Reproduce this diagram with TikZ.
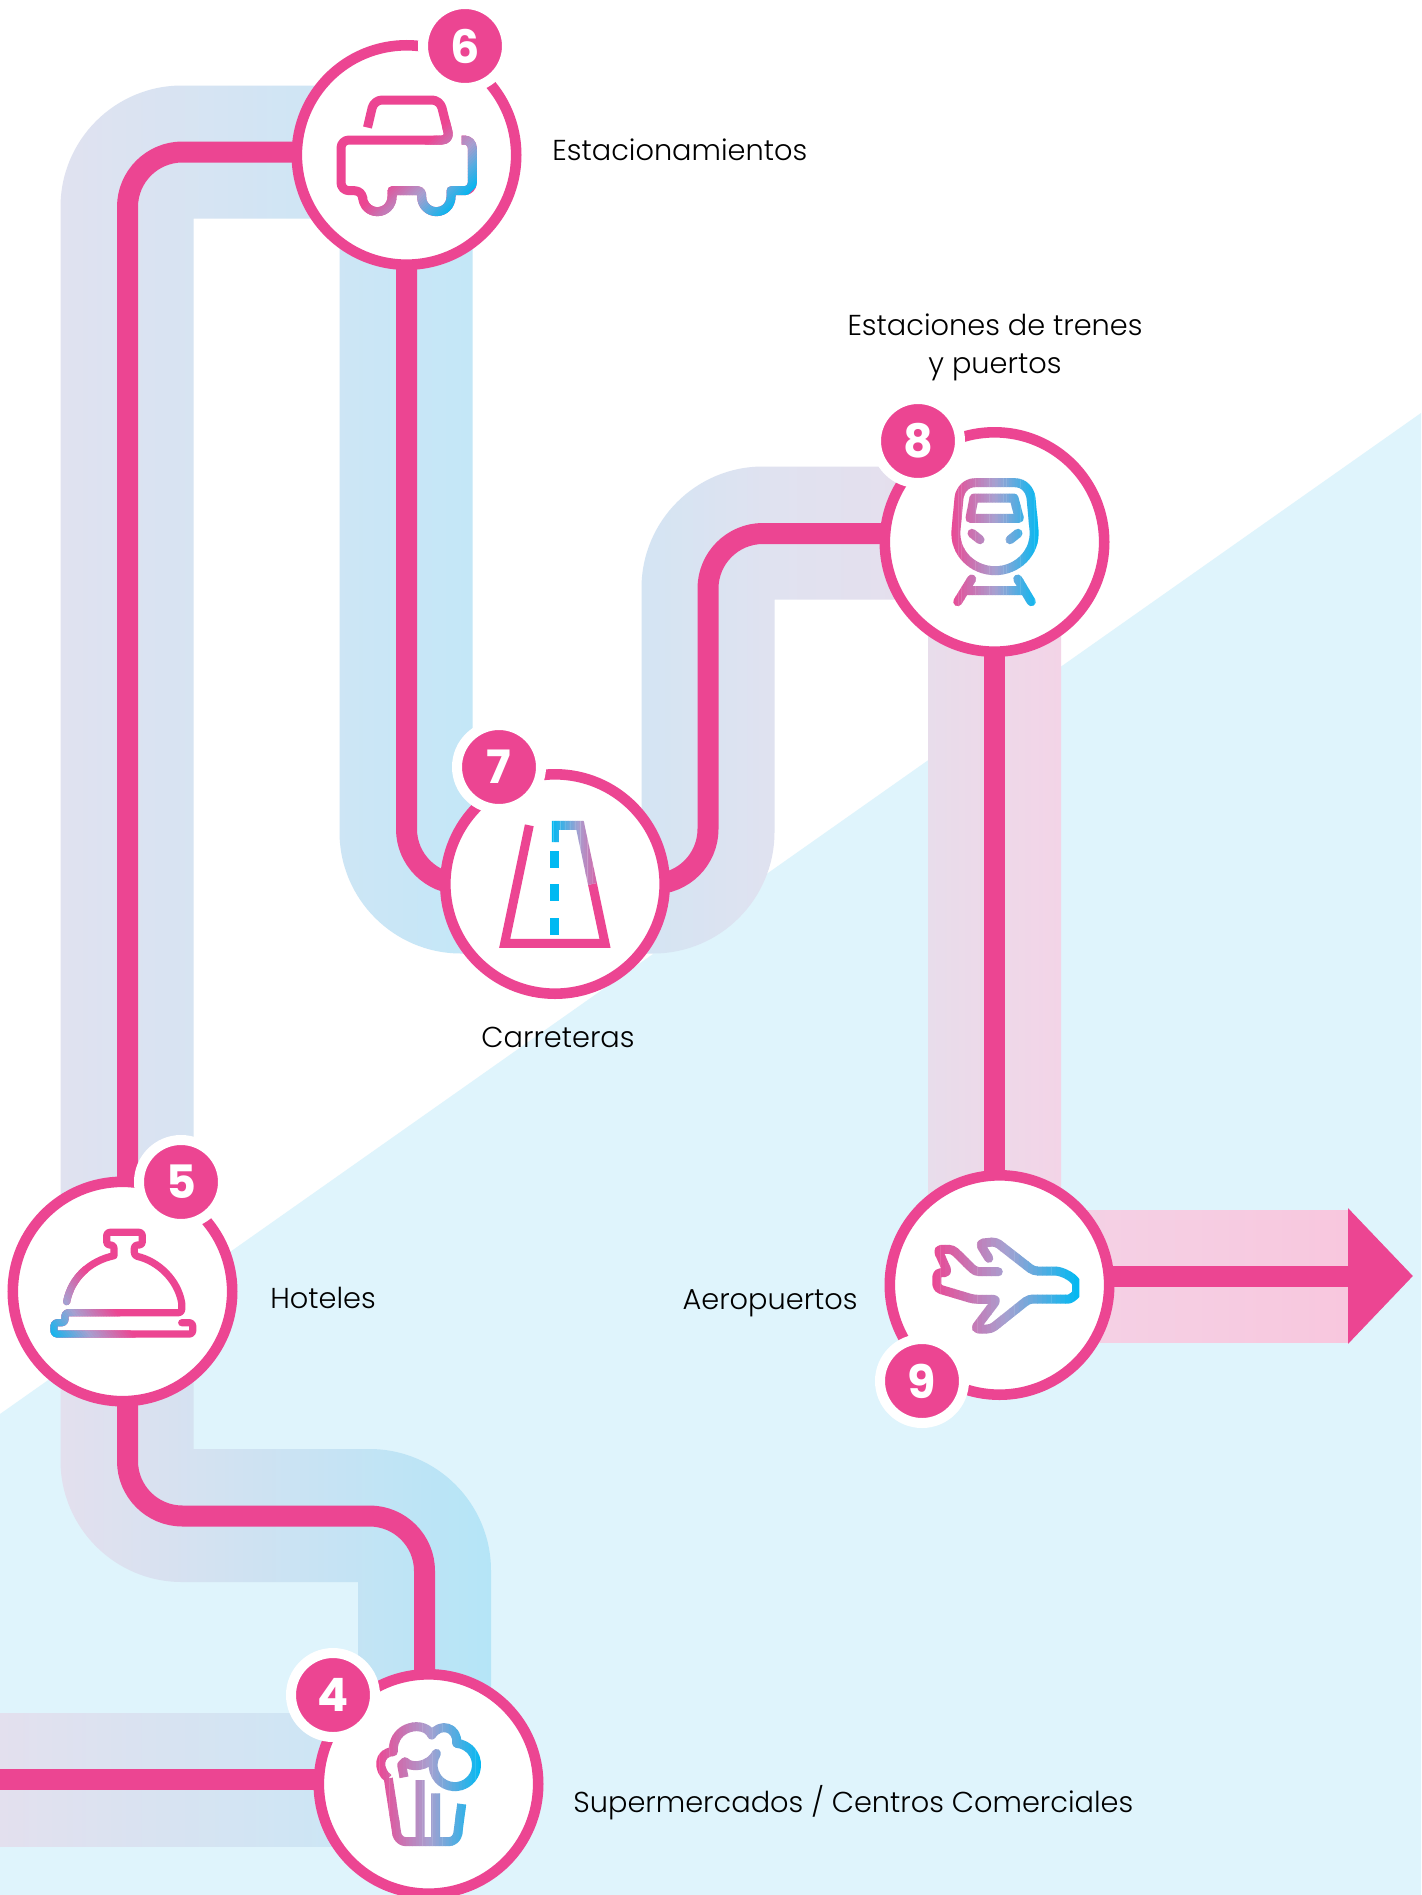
\documentclass[tikz,border=0pt]{standalone}
\usepackage{fontspec}
\setmainfont{Poppins}
\newfontfamily\captionfont{Poppins Light}
\usetikzlibrary{arrows.meta,backgrounds}

\definecolor{linkpink}{HTML}{EC4592}
\definecolor{iconmid}{HTML}{A8A0D0}
\definecolor{iconblue}{HTML}{00B9F2}
\definecolor{skyfield}{HTML}{DFF4FC}
\definecolor{bandlilac}{HTML}{E3E0EE}
\definecolor{bandpale}{HTML}{CCE6F5}
\definecolor{bandsky}{HTML}{B5E5F7}
\definecolor{bandice}{HTML}{E0E2F0}
\definecolor{bandaqua}{HTML}{BEE8F9}
\definecolor{bandmauve}{HTML}{E8DDEB}
\definecolor{bandrose}{HTML}{F3D4E7}
\definecolor{bandpeony}{HTML}{F8C7DE}

\newcommand{\iconslices}[5]{%
  \foreach \i in {0,...,31}{%
    \pgfmathsetmacro{\mixa}{min(100,6.25*(\i+.5))}%
    \pgfmathsetmacro{\mixb}{max(0,6.25*(\i+.5)-100)}%
    \ifnum\i<16 \colorlet{slicecolor}{iconmid!\mixa!linkpink}\else \colorlet{slicecolor}{iconblue!\mixb!iconmid}\fi
    \begin{scope}
      \path[clip,rotate around={-#4:(#1,#2)}] (#1-#3+#3*\i/16,#2-130) rectangle (#1-#3+#3*\i/16+#3*1.1/16,#2+130);
      \draw[iconline,draw=slicecolor] #5;
    \end{scope}
  }%
}
\newcommand{\carpath}{(367.5,127.5) [rounded corners=4pt] -- (374,100) -- (440,100) -- (450,140) -- (341,140) -- (341,190.7) -- (362.7,190.7) [sharp corners] -- (362.7,197) arc[start angle=180,end angle=0,radius=14.65] -- (392,190.7) [rounded corners=2pt] -- (421.7,190.7) [sharp corners] -- (421.7,197) arc[start angle=180,end angle=0,radius=14.65] -- (451,190.7) [rounded corners=4pt] -- (472.3,190.7) -- (472.3,140) -- (461.7,140)}
\newcommand{\bellpath}{(66.7,1301.7) .. controls (71,1278.3) and (90,1260.7) .. (114,1255.7) [rounded corners=1.5pt] -- (114,1245) -- (106.7,1245) -- (106.7,1232.3) -- (142.3,1232.3) -- (142.3,1245) -- (134.3,1245) -- (134.3,1255.7) [sharp corners] .. controls (158,1261) and (178,1280) .. (181.7,1303) [rounded corners=1.5pt] -- (181.7,1312.7) -- (65,1312.7) -- (65,1322.7) -- (54,1322.7) -- (54,1334) -- (192.7,1334) -- (192.7,1322.7) -- (181.7,1322.7)}

\begin{document}
\begin{tikzpicture}[x=0.5pt,y=-0.5pt]
  \tikzstyle{stopnode}=[circle,draw=linkpink,fill=white,line width=5.3pt,minimum size=109.7pt,inner sep=0pt]
  \tikzstyle{badge}=[circle,draw=white,fill=linkpink,line width=5pt,minimum size=42pt,inner sep=0pt,text=white,font=\fontsize{23}{23}\selectfont\bfseries]
  \tikzstyle{caption}=[inner sep=0pt,text=black,font=\captionfont\fontsize{14.4}{19}\selectfont,align=center]
  \tikzstyle{mainline}=[draw=linkpink,line width=10.5pt]
  \tikzstyle{iconline}=[line width=4.5pt,line join=round]
  \tikzstyle{band}=[draw=none]

  \useasboundingbox (0,0) rectangle (1421,1895);

  \node[stopnode] (n6) at (406.5,155)  {};
  \node[stopnode] (n7) at (555,884)    {};
  \node[stopnode] (n8) at (994.5,542)  {};
  \node[stopnode] (n5) at (122.5,1291.5) {};
  \node[stopnode] (n9) at (999.5,1285) {};
  \node[stopnode] (n4) at (428.5,1784) {};

  \node[badge] (b6) at (465,46)    {6};
  \node[badge] (b7) at (499,767)   {7};
  \node[badge] (b8) at (918,441)   {8};
  \node[badge] (b5) at (181,1182)  {5};
  \node[badge] (b9) at (922,1381)  {9};
  \node[badge] (b4) at (333,1695)  {4};

  \node[caption,anchor=west] (t6) at (552,150)   {Estacionamientos};
  \node[caption] (t8) at (995,347)               {Estaciones de trenes\\y puertos};
  \node[caption] (t7) at (558,1037)              {Carreteras};
  \node[caption,anchor=west] (t5) at (270,1298)  {Hoteles};
  \node[caption,anchor=east] (t9) at (858,1303)  {Aeropuertos};
  \node[caption,anchor=west] (t4) at (573,1803)  {Supermercados / Centros Comerciales};

  \coordinate (in4) at (0,1779);
  \coordinate (turn45) at (276,1516);
  \coordinate (turn78) at (708,700);
  \coordinate (tip) at (1413,1276);

  \begin{pgfonlayer}{background}
    \fill[white] (0,0) rectangle (1421,1895);
    \fill[skyfield] (0,1414) -- (1421,413) -- (1421,1895) -- (0,1895) -- cycle;

    \path[band,left color=bandlilac,right color=bandpale] (0,1713) rectangle (340,1846);
    \path[band,left color=bandlilac,right color=bandsky]
      (60.5,1291) -- (193.5,1291) -- (193.5,1449) -- (369.5,1449) arc[start angle=270,end angle=360,radius=121.5]
      -- (491,1784) -- (358,1784) -- (358,1582) -- (182,1582) arc[start angle=90,end angle=180,radius=121.5] -- cycle;
    \path[band,left color=bandice,right color=bandaqua]
      (60.5,1291) -- (60.5,207) arc[start angle=180,end angle=270,radius=121.5] -- (472.5,85.5) -- (472.5,820.5)
      -- (555,820.5) -- (555,953.5) -- (461,953.5) arc[start angle=90,end angle=180,radius=121.5]
      -- (339.5,218.5) -- (193.5,218.5) -- (193.5,1291) -- cycle;
    \path[band,left color=bandpale,right color=bandmauve,middle color=bandice]
      (555,953.5) -- (653,953.5) arc[start angle=90,end angle=0,radius=121.5] -- (774.5,599.5) -- (994,599.5)
      -- (994,466.5) -- (763,466.5) arc[start angle=270,end angle=180,radius=121.5] -- (641.5,820.5) -- (555,820.5) -- cycle;
    \path[band,left color=bandmauve,right color=bandrose] (928,533) rectangle (1061,1285);
    \path[band,left color=bandrose,right color=bandpeony] (1000,1210) rectangle (1349,1342);

    \draw[mainline] (in4) -- (in4 -| n4);
    \draw[mainline,rounded corners=27.5pt] ([xshift=-2pt]n4.center) |- (turn45) -| ([xshift=2.5pt]n5.center);
    \draw[mainline,rounded corners=27.5pt] ([xshift=2.5pt]n5.center) |- ([yshift=1.5pt]n6.center);
    \draw[mainline,rounded corners=27.5pt] (n6.center) |- (n7.center);
    \draw[mainline,rounded corners=27.5pt] (n7.center) -| (turn78) |- ([yshift=4.25pt]n8.center);
    \draw[mainline] (n8.center) -- (n8.center |- n9.center);
    \draw[mainline,-{Triangle[length=32.5pt,width=66pt]}] (tip -| n9) -- (tip);
  \end{pgfonlayer}

  \draw[iconline,draw=linkpink] \carpath;
  \iconslices{426}{190}{33}{45}{\carpath}

  \draw[iconline,draw=linkpink,line join=miter] (529.3,825.3) -- (504.7,943.3) -- (605,943.3) -- (592.5,884);
  \iconslices{579}{885}{27}{180}{[line join=miter] (592.5,884) -- (580,825.3) -- (554.3,825.3) -- (554.3,842)}
  \draw[iconline,draw=iconblue] (554.3,851) -- (554.3,867.7) (554.3,884) -- (554.3,901) (554.3,918) -- (554.3,935);

  \iconslices{995}{540}{45}{0}{[line cap=round] (975,482.7) -- (1015,482.7) .. controls (1024,482.7) and (1030,490) .. (1031,498) -- (1034,530) .. controls (1036,553) and (1017,570.7) .. (995,570.7) .. controls (973,570.7) and (954,553) .. (956,530) -- (959,498) .. controls (960,490) and (966,482.7) .. (975,482.7) -- cycle (974,498) -- (1014,498) -- (1019.3,518.3) -- (970,518.3) -- cycle (972,533.3) -- (980,539.7) (1018,533.3) -- (1010,539.7) (971.7,579) -- (957.7,601.7) (1017.7,579) -- (1031.3,601.7) (966.7,590.7) -- (1022.7,590.7)}

  \begin{scope}[iconline/.append style={line width=3.6pt}]
    \draw[iconline,draw=linkpink,line cap=round] \bellpath;
    \iconslices{78}{1317.7}{35}{144}{[line cap=round] \bellpath}
  \end{scope}

  \iconslices{1005}{1285}{74}{0}{[line cap=round,rounded corners=2pt] (988.8,1258.3) -- (979.6,1243.3) -- (995.8,1241.7) -- (1033.4,1271) -- (1051,1271) .. controls (1063,1271) and (1076.6,1279) .. (1076.6,1288.3) .. controls (1076.6,1295) and (1070,1299) .. (1065,1299) -- (1028.8,1299) -- (991.2,1329) -- (974.7,1329) -- (997.2,1299.3) -- (973.7,1299.3) -- (936.8,1288.3) -- (936.8,1272.7) -- (948,1272.7) -- (937.5,1249.3) -- (952.6,1249.3) -- (975.4,1271.7) -- (998.3,1271.7)}

  \iconslices{429}{1790}{53}{0}{(388.3,1778.3) .. controls (377,1770) and (378,1752) .. (393.3,1751.7) .. controls (392,1725) and (425,1720) .. (431.7,1735) .. controls (440,1722) and (458,1727) .. (456.7,1743.3) arc[start angle=-85,end angle=212,radius=21.7] .. controls (428,1768) and (410,1768) .. (405,1761.7) -- (401.7,1765) -- (404,1777.3) (388.3,1778.3) [rounded corners=4pt] -- (398,1841.7) -- (456.7,1841.7) [sharp corners] -- (461.7,1804) (420,1780) -- (420,1840) (435.7,1793.3) -- (435.7,1840)}
\end{tikzpicture}
\end{document}
